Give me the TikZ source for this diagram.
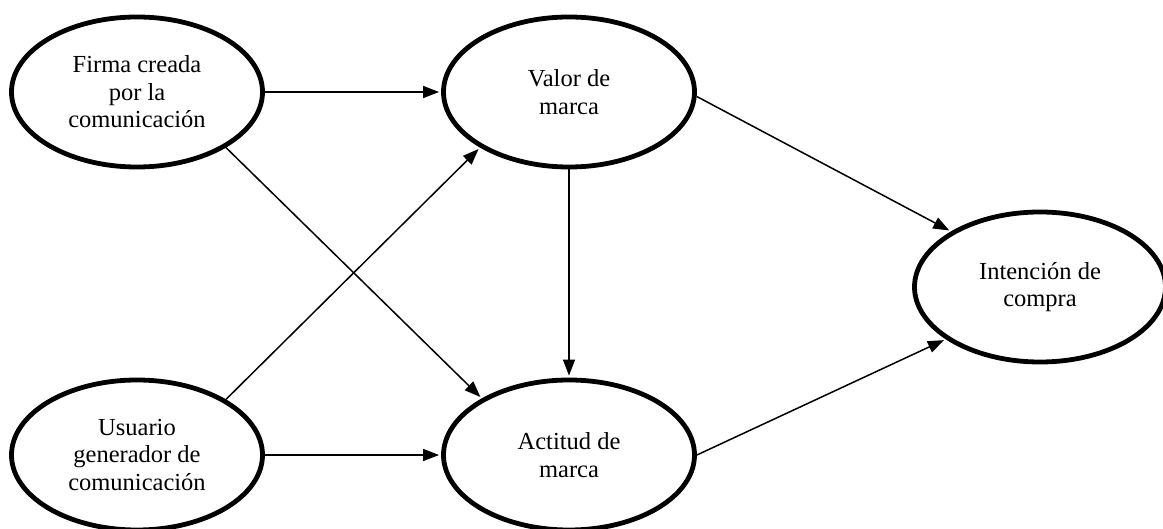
\documentclass[tikz,border=0pt]{standalone}
\usepackage{fontspec}
\setmainfont{Liberation Serif}
\usetikzlibrary{shapes.geometric,arrows.meta}
\begin{document}
\begin{tikzpicture}[x=1pt,y=-1pt,
  construct/.style={ellipse,draw,line width=4.8pt,minimum width=251pt,minimum height=150pt,
    inner sep=0pt,align=center,font=\fontsize{24.5}{27.5}\selectfont},
  link/.style={line width=1.5pt,-{Triangle[length=16pt,width=12pt]},shorten >=2pt}]
\useasboundingbox (0,0) rectangle (1163,529);
\node[construct] (firma) at (137,92) {Firma creada\\por la\\comunicación};
\node[construct] (valor) at (569,92) {Valor de\\marca};
\node[construct] (intencion) at (1040,287) {Intención de\\compra};
\node[construct] (usuario) at (137,455) {Usuario\\generador de\\comunicación};
\node[construct] (actitud) at (569,455) {Actitud de\\marca};
\draw[link] (firma.east) -- (valor.west);
\draw[link] (usuario.east) -- (actitud.west);
\draw[link] (firma.-32) -- (actitud.147);
\draw[link] (usuario.32) -- (valor.-148);
\draw[link] (valor.south) -- (actitud.north);
\draw[link] (valor.-2) -- (intencion.148);
\draw[link] (actitud.east) -- (intencion.209);
\end{tikzpicture}
\end{document}
